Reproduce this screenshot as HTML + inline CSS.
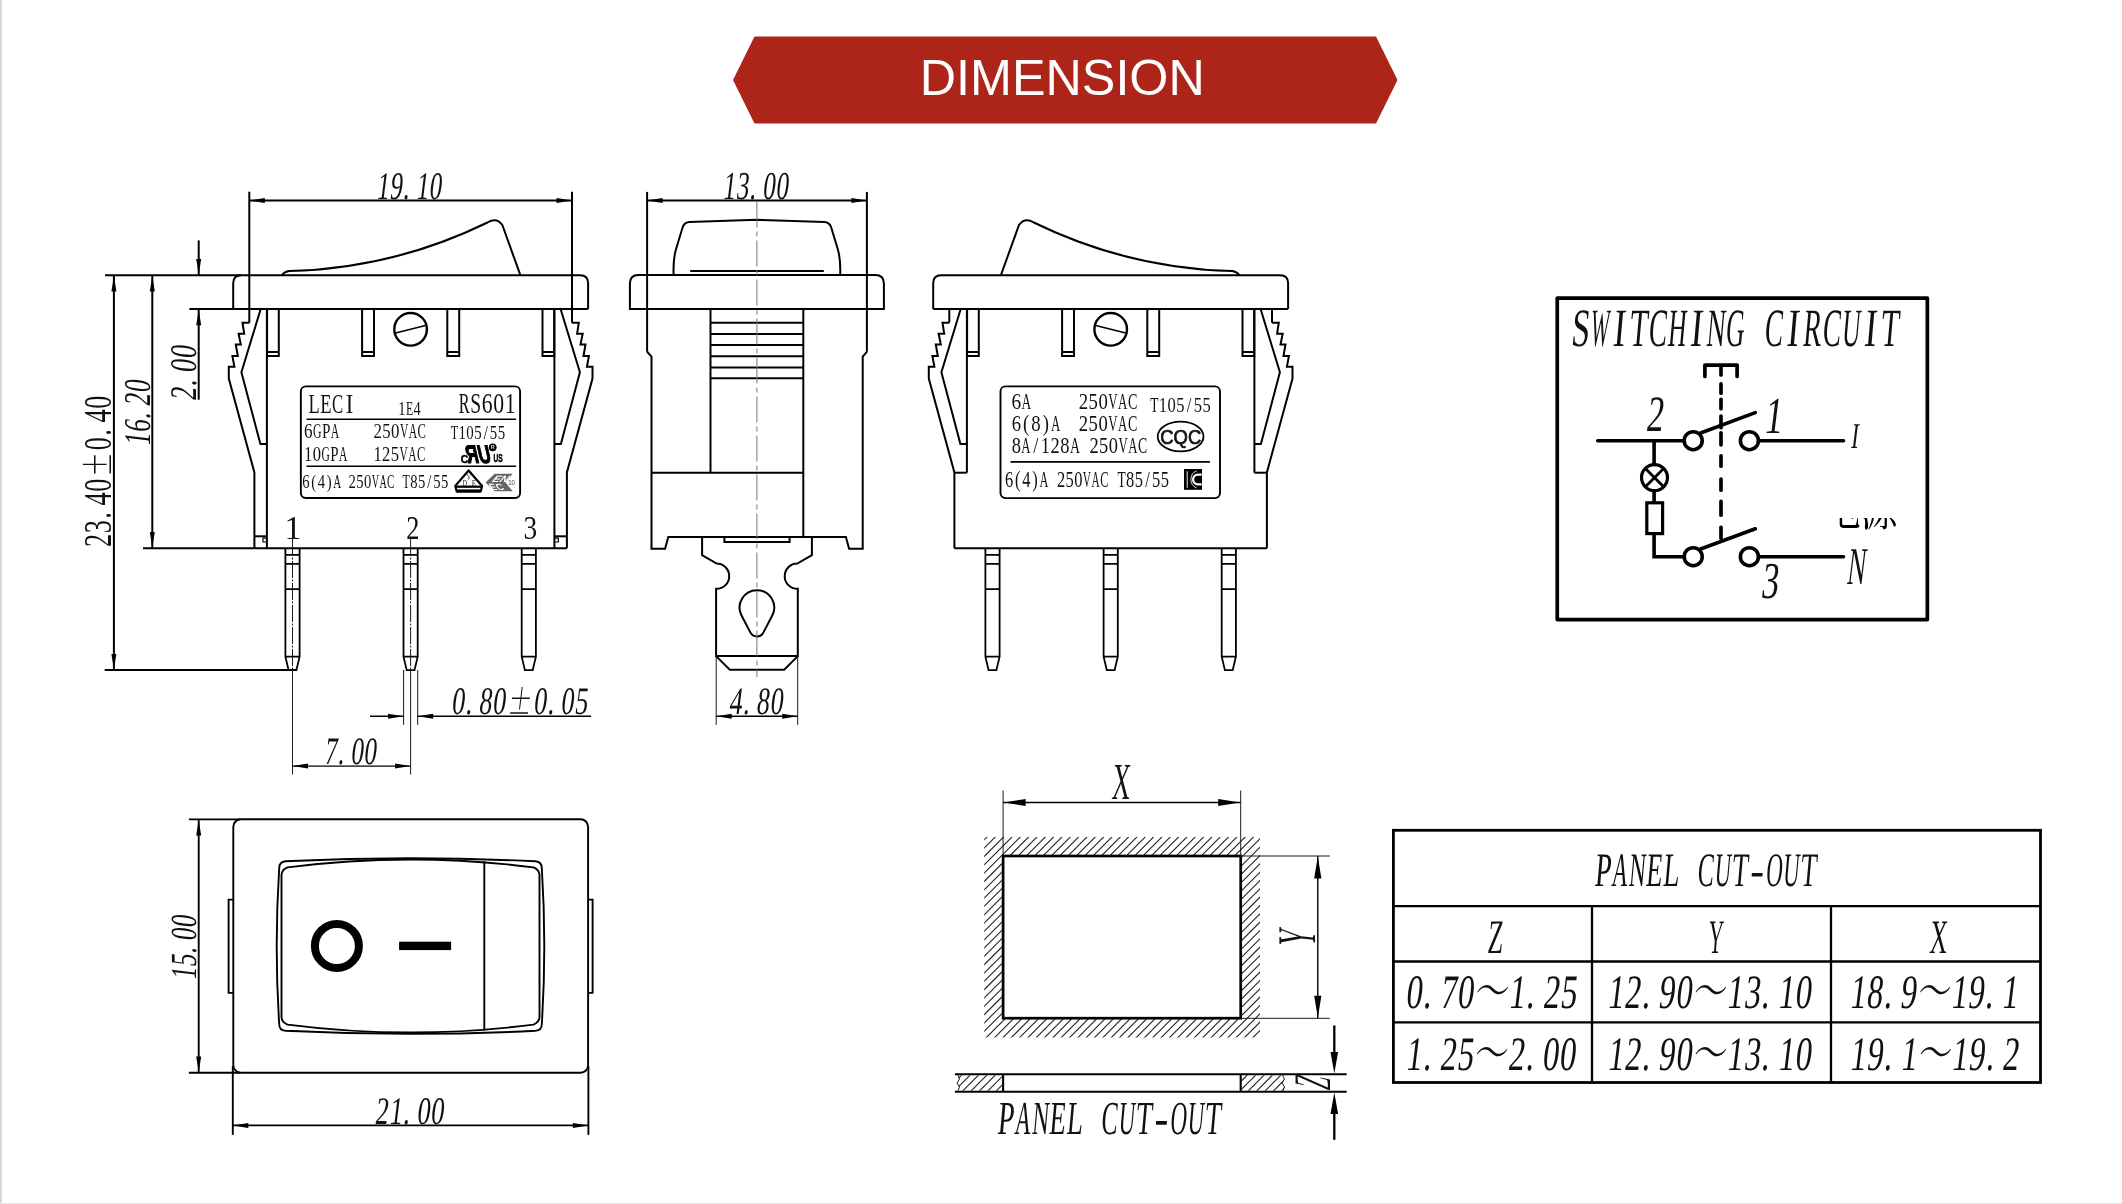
<!DOCTYPE html>
<html lang="en"><head><meta charset="utf-8"><title>DIMENSION</title>
<style>
html,body{margin:0;padding:0;background:#fff;}
body{width:2122px;height:1204px;overflow:hidden;position:relative;}
svg{display:block;position:absolute;left:0;top:0;will-change:transform;}
svg text{font-family:"Liberation Serif","Noto Serif CJK SC",serif;fill:#111;stroke:none;}
svg .ar{fill:#000;stroke:none;}
svg .g{fill:none;stroke:#000;stroke-linecap:butt;stroke-linejoin:miter;}
</style></head><body>
<svg width="2122" height="1204" viewBox="0 0 2122 1204">
<rect x="0" y="0" width="2122" height="1204" fill="#fff"/>
<rect x="0" y="0" width="2" height="1204" fill="#d9d9d9"/>
<rect x="0" y="1203" width="2122" height="1" fill="#e4e4e4"/>
<g class="g">
<polygon points="733,80 754.5,36.5 1376,36.5 1397.5,80 1376,123.5 754.5,123.5" fill="#ad2418" stroke="none"/>
<text x="1062.3" y="95.3" font-size="49.7" text-anchor="middle" textLength="285" lengthAdjust="spacingAndGlyphs" style="font-family:'Liberation Sans',sans-serif;fill:#fff">DIMENSION</text>
<path d="M233.2,309 V283.2 Q233.2,275.2 241.2,275.2 H580.1 Q588.1,275.2 588.1,283.2 V309" stroke-width="2"/>
<line x1="233.2" y1="309" x2="588.1" y2="309" stroke-width="2"/>
<path d="M282,275 Q284.5,271.8 289,271.1 A480,480 0 0 0 487.5,222.5 Q496.5,217 502.3,225 L520.2,274.6" stroke-width="2"/>
<path d="M249.3,322.7 H242.5 L244.2,333.7 H238.6 L240.8,344.4 H235.8 L237.8,356.1 H232.4 L234.4,366.8 H228.8 V378.6 L254.4,472.4 V548.3" stroke-width="2"/>
<path d="M260.7,309 L241.4,372.3 L260.4,443.9 H266.9" stroke-width="2"/>
<line x1="266.9" y1="309" x2="266.9" y2="548.3" stroke-width="2"/>
<line x1="254.4" y1="536.3" x2="266.9" y2="536.3" stroke-width="2"/>
<path d="M266.9,538.2 H263 V542 H266.9" stroke-width="1.2"/>
<path d="M572,322.7 H578.8 L577.1,333.7 H582.7 L580.5,344.4 H585.5 L583.5,356.1 H588.9 L586.9,366.8 H592.5 V378.6 L566.9,472.4 V548.3" stroke-width="2"/>
<path d="M560.6,309 L579.9,372.3 L560.9,443.9 H554.4" stroke-width="2"/>
<line x1="554.4" y1="309" x2="554.4" y2="548.3" stroke-width="2"/>
<line x1="566.9" y1="536.3" x2="554.4" y2="536.3" stroke-width="2"/>
<path d="M554.4,538.2 H558.3 V542 H554.4" stroke-width="1.2"/>
<path d="M267.1,309 V356.1 H278.8 V309 M267.1,351.9 H278.8" stroke-width="2"/>
<path d="M362.1,309 V356.1 H374 V309 M362.1,351.9 H374" stroke-width="2"/>
<path d="M447.3,309 V356.1 H459.2 V309 M447.3,351.9 H459.2" stroke-width="2"/>
<path d="M542.5,309 V356.1 H554.2 V309 M542.5,351.9 H554.2" stroke-width="2"/>
<circle cx="410.6" cy="329.3" r="16.3" stroke-width="2.4"/>
<line x1="395.6" y1="333.1" x2="425.5" y2="325.4" stroke-width="1.5"/>
<line x1="254.4" y1="548.3" x2="566.9" y2="548.3" stroke-width="2"/>
<path d="M285.4,548.3 V656.6 L288.6,670.1 H296.4 L299.6,656.6 V548.3 M285.4,554.9 H299.6 M285.4,563.8 H299.6 M285.4,589.2 H299.6 M285.4,656.6 H299.6" stroke-width="1.8"/>
<path d="M403.5,548.3 V656.6 L406.7,670.1 H414.5 L417.7,656.6 V548.3 M403.5,554.9 H417.7 M403.5,563.8 H417.7 M403.5,589.2 H417.7 M403.5,656.6 H417.7" stroke-width="1.8"/>
<path d="M521.7,548.3 V656.6 L524.9,670.1 H532.7 L535.9,656.6 V548.3 M521.7,554.9 H535.9 M521.7,563.8 H535.9 M521.7,589.2 H535.9 M521.7,656.6 H535.9" stroke-width="1.8"/>
<line x1="249.3" y1="191.7" x2="249.3" y2="322.7" stroke-width="2"/>
<line x1="572" y1="191.7" x2="572" y2="322.7" stroke-width="2"/>
<line x1="249.3" y1="200.6" x2="572" y2="200.6" stroke-width="2"/>
<polygon class="ar" points="249.3,200.6 264.8,198.1 264.8,203.1"/>
<polygon class="ar" points="572,200.6 556.5,203.1 556.5,198.1"/>
<text transform="translate(377.6,198.7) skewX(-7)" font-size="39.2" aria-label="19.10"><tspan x="-1.49" textLength="12.44" lengthAdjust="spacingAndGlyphs">1</tspan><tspan x="11.61" textLength="12.44" lengthAdjust="spacingAndGlyphs">9</tspan><tspan x="25.19" textLength="6.22" lengthAdjust="spacingAndGlyphs">.</tspan><tspan x="37.8" textLength="12.44" lengthAdjust="spacingAndGlyphs">1</tspan><tspan x="50.89" textLength="12.44" lengthAdjust="spacingAndGlyphs">0</tspan></text>
<line x1="105" y1="275.2" x2="241" y2="275.2" stroke-width="2"/>
<line x1="189.4" y1="309" x2="233.2" y2="309" stroke-width="2"/>
<line x1="143" y1="548.3" x2="254.4" y2="548.3" stroke-width="2"/>
<line x1="104.7" y1="670.1" x2="296.6" y2="670.1" stroke-width="2"/>
<line x1="113.9" y1="275.2" x2="113.9" y2="670.1" stroke-width="2"/>
<polygon class="ar" points="113.9,275.9 116.4,291.4 111.4,291.4"/>
<polygon class="ar" points="113.9,669.4 111.4,653.9 116.4,653.9"/>
<text transform="translate(111.4,547) rotate(-90)" font-size="40.53" aria-label="23.40±0.40"><tspan x="0.01" textLength="13.13" lengthAdjust="spacingAndGlyphs">2</tspan><tspan x="13.83" textLength="13.13" lengthAdjust="spacingAndGlyphs">3</tspan><tspan x="28.18" textLength="6.57" lengthAdjust="spacingAndGlyphs">.</tspan><tspan x="41.48" textLength="13.13" lengthAdjust="spacingAndGlyphs">4</tspan><tspan x="55.31" textLength="13.13" lengthAdjust="spacingAndGlyphs">0</tspan><tspan x="70.52" textLength="24.19" lengthAdjust="spacingAndGlyphs" font-family="Noto Serif CJK SC" font-size="35.67">±</tspan><tspan x="96.78" textLength="13.13" lengthAdjust="spacingAndGlyphs">0</tspan><tspan x="111.13" textLength="6.57" lengthAdjust="spacingAndGlyphs">.</tspan><tspan x="124.43" textLength="13.13" lengthAdjust="spacingAndGlyphs">4</tspan><tspan x="138.26" textLength="13.13" lengthAdjust="spacingAndGlyphs">0</tspan></text>
<line x1="152.3" y1="275.2" x2="152.3" y2="548.3" stroke-width="2"/>
<polygon class="ar" points="152.3,275.9 154.8,291.4 149.8,291.4"/>
<polygon class="ar" points="152.3,547.6 149.8,532.1 154.8,532.1"/>
<text transform="translate(150.2,444.5) rotate(-90) skewX(-7)" font-size="37.87" aria-label="16.20"><tspan x="-1.73" textLength="12.61" lengthAdjust="spacingAndGlyphs">1</tspan><tspan x="11.54" textLength="12.61" lengthAdjust="spacingAndGlyphs">6</tspan><tspan x="25.32" textLength="6.31" lengthAdjust="spacingAndGlyphs">.</tspan><tspan x="38.1" textLength="12.61" lengthAdjust="spacingAndGlyphs">2</tspan><tspan x="51.38" textLength="12.61" lengthAdjust="spacingAndGlyphs">0</tspan></text>
<line x1="198.7" y1="240.4" x2="198.7" y2="275.2" stroke-width="2"/>
<polygon class="ar" points="198.7,274.5 196.2,259 201.2,259"/>
<line x1="198.7" y1="309" x2="198.7" y2="399.7" stroke-width="2"/>
<polygon class="ar" points="198.7,309.7 201.2,325.2 196.2,325.2"/>
<text transform="translate(196.3,399) rotate(-90) skewX(-7)" font-size="37.57" aria-label="2.00"><tspan x="-2.1" textLength="13.27" lengthAdjust="spacingAndGlyphs">2</tspan><tspan x="12.39" textLength="6.64" lengthAdjust="spacingAndGlyphs">.</tspan><tspan x="25.84" textLength="13.27" lengthAdjust="spacingAndGlyphs">0</tspan><tspan x="39.81" textLength="13.27" lengthAdjust="spacingAndGlyphs">0</tspan></text>
<text transform="translate(288.1,538.9)" font-size="33.58" aria-label="1"><tspan x="-3.73" textLength="16.96" lengthAdjust="spacingAndGlyphs">1</tspan></text>
<text transform="translate(406.8,538.9)" font-size="33.58" aria-label="2"><tspan x="-0.66" textLength="13.22" lengthAdjust="spacingAndGlyphs">2</tspan></text>
<text transform="translate(524.6,538.9)" font-size="33.58" aria-label="3"><tspan x="-1.1" textLength="13.69" lengthAdjust="spacingAndGlyphs">3</tspan></text>
<line x1="292.5" y1="539" x2="292.5" y2="670" stroke-width="1" stroke-dasharray="17 1.5 2 1.5" stroke="#1a1a1a"/>
<line x1="292.5" y1="670" x2="292.5" y2="774.5" stroke-width="1" stroke="#1a1a1a"/>
<line x1="410.6" y1="539" x2="410.6" y2="670" stroke-width="1" stroke-dasharray="17 1.5 2 1.5" stroke="#1a1a1a"/>
<line x1="410.6" y1="670" x2="410.6" y2="774.5" stroke-width="1" stroke="#1a1a1a"/>
<line x1="403.6" y1="670" x2="403.6" y2="724.8" stroke-width="1" stroke="#1a1a1a"/>
<line x1="417.7" y1="670" x2="417.7" y2="724.8" stroke-width="1" stroke="#1a1a1a"/>
<line x1="370" y1="716.2" x2="403.6" y2="716.2" stroke-width="1.4"/>
<polygon class="ar" points="403.6,716.2 388.1,718.7 388.1,713.7"/>
<line x1="417.7" y1="716.2" x2="591" y2="716.2" stroke-width="1.4"/>
<polygon class="ar" points="417.7,716.2 433.2,713.7 433.2,718.7"/>
<text transform="translate(452.8,713.7) skewX(-7)" font-size="39.05" aria-label="0.80±0.05"><tspan x="-1.77" textLength="12.98" lengthAdjust="spacingAndGlyphs">0</tspan><tspan x="12.4" textLength="6.49" lengthAdjust="spacingAndGlyphs">.</tspan><tspan x="25.54" textLength="12.98" lengthAdjust="spacingAndGlyphs">8</tspan><tspan x="39.2" textLength="12.98" lengthAdjust="spacingAndGlyphs">0</tspan><tspan x="54.23" textLength="23.9" lengthAdjust="spacingAndGlyphs" font-family="Noto Serif CJK SC" font-size="34.37">±</tspan><tspan x="80.18" textLength="12.98" lengthAdjust="spacingAndGlyphs">0</tspan><tspan x="94.35" textLength="6.49" lengthAdjust="spacingAndGlyphs">.</tspan><tspan x="107.5" textLength="12.98" lengthAdjust="spacingAndGlyphs">0</tspan><tspan x="121.16" textLength="12.98" lengthAdjust="spacingAndGlyphs">5</tspan></text>
<line x1="292.5" y1="766.1" x2="410.6" y2="766.1" stroke-width="1.4"/>
<polygon class="ar" points="292.5,766.1 308,763.6 308,768.6"/>
<polygon class="ar" points="410.6,766.1 395.1,768.6 395.1,763.6"/>
<text transform="translate(325.4,763.8) skewX(-7)" font-size="38.91" aria-label="7.00"><tspan x="-1.55" textLength="12.5" lengthAdjust="spacingAndGlyphs">7</tspan><tspan x="12.1" textLength="6.25" lengthAdjust="spacingAndGlyphs">.</tspan><tspan x="24.76" textLength="12.5" lengthAdjust="spacingAndGlyphs">0</tspan><tspan x="37.92" textLength="12.5" lengthAdjust="spacingAndGlyphs">0</tspan></text>
<rect x="300.85" y="386.4" width="219.25" height="111.6" rx="5" stroke-width="1.9"/>
<line x1="306.5" y1="419.2" x2="516.1" y2="419.2" stroke-width="1.6"/>
<line x1="306.5" y1="466.3" x2="516.1" y2="466.3" stroke-width="1.6"/>
<text transform="translate(309.5,412.6)" font-size="27.81" aria-label="LECI"><tspan x="-1.11" textLength="11.23" lengthAdjust="spacingAndGlyphs">L</tspan><tspan x="10.72" textLength="11.23" lengthAdjust="spacingAndGlyphs">E</tspan><tspan x="22.55" textLength="11.23" lengthAdjust="spacingAndGlyphs">C</tspan><tspan x="36.25" textLength="7.48" lengthAdjust="spacingAndGlyphs">I</tspan></text>
<text transform="translate(399,415.2)" font-size="18.05" aria-label="1E4"><tspan x="-0.69" textLength="7.24" lengthAdjust="spacingAndGlyphs">1</tspan><tspan x="6.93" textLength="7.24" lengthAdjust="spacingAndGlyphs">E</tspan><tspan x="14.55" textLength="7.24" lengthAdjust="spacingAndGlyphs">4</tspan></text>
<text transform="translate(459.7,412.8)" font-size="28.4" aria-label="RS601"><tspan x="-0.83" textLength="10.87" lengthAdjust="spacingAndGlyphs">R</tspan><tspan x="10.62" textLength="10.87" lengthAdjust="spacingAndGlyphs">S</tspan><tspan x="22.06" textLength="10.87" lengthAdjust="spacingAndGlyphs">6</tspan><tspan x="33.51" textLength="10.87" lengthAdjust="spacingAndGlyphs">0</tspan><tspan x="44.96" textLength="10.87" lengthAdjust="spacingAndGlyphs">1</tspan></text>
<text transform="translate(304.9,437.6)" font-size="20.86" aria-label="6GPA"><tspan x="-0.86" textLength="8.5" lengthAdjust="spacingAndGlyphs">6</tspan><tspan x="8.08" textLength="8.5" lengthAdjust="spacingAndGlyphs">G</tspan><tspan x="17.02" textLength="8.5" lengthAdjust="spacingAndGlyphs">P</tspan><tspan x="25.97" textLength="8.5" lengthAdjust="spacingAndGlyphs">A</tspan></text>
<text transform="translate(374.2,437.6)" font-size="20.86" aria-label="250VAC"><tspan x="-0.82" textLength="8.4" lengthAdjust="spacingAndGlyphs">2</tspan><tspan x="8.03" textLength="8.4" lengthAdjust="spacingAndGlyphs">5</tspan><tspan x="16.87" textLength="8.4" lengthAdjust="spacingAndGlyphs">0</tspan><tspan x="25.72" textLength="8.4" lengthAdjust="spacingAndGlyphs">V</tspan><tspan x="34.57" textLength="8.4" lengthAdjust="spacingAndGlyphs">A</tspan><tspan x="43.41" textLength="8.4" lengthAdjust="spacingAndGlyphs">C</tspan></text>
<text transform="translate(451.4,438.6)" font-size="18.49" aria-label="T105/55"><tspan x="-0.72" textLength="7.44" lengthAdjust="spacingAndGlyphs">T</tspan><tspan x="7.11" textLength="7.44" lengthAdjust="spacingAndGlyphs">1</tspan><tspan x="14.95" textLength="7.44" lengthAdjust="spacingAndGlyphs">0</tspan><tspan x="22.78" textLength="7.44" lengthAdjust="spacingAndGlyphs">5</tspan><tspan x="32.26" textLength="4.14" lengthAdjust="spacingAndGlyphs">/</tspan><tspan x="38.45" textLength="7.44" lengthAdjust="spacingAndGlyphs">5</tspan><tspan x="46.28" textLength="7.44" lengthAdjust="spacingAndGlyphs">5</tspan></text>
<text transform="translate(304.9,461.1)" font-size="20.56" aria-label="10GPA"><tspan x="-0.81" textLength="8.3" lengthAdjust="spacingAndGlyphs">1</tspan><tspan x="7.92" textLength="8.3" lengthAdjust="spacingAndGlyphs">0</tspan><tspan x="16.65" textLength="8.3" lengthAdjust="spacingAndGlyphs">G</tspan><tspan x="25.38" textLength="8.3" lengthAdjust="spacingAndGlyphs">P</tspan><tspan x="34.12" textLength="8.3" lengthAdjust="spacingAndGlyphs">A</tspan></text>
<text transform="translate(374.2,461.1)" font-size="20.56" aria-label="125VAC"><tspan x="-0.82" textLength="8.31" lengthAdjust="spacingAndGlyphs">1</tspan><tspan x="7.93" textLength="8.31" lengthAdjust="spacingAndGlyphs">2</tspan><tspan x="16.67" textLength="8.31" lengthAdjust="spacingAndGlyphs">5</tspan><tspan x="25.42" textLength="8.31" lengthAdjust="spacingAndGlyphs">V</tspan><tspan x="34.16" textLength="8.31" lengthAdjust="spacingAndGlyphs">A</tspan><tspan x="42.91" textLength="8.31" lengthAdjust="spacingAndGlyphs">C</tspan></text>
<text transform="translate(302.9,488.4)" font-size="18.93" aria-label="6(4)A 250VAC T85/55"><tspan x="-0.59" textLength="7.32" lengthAdjust="spacingAndGlyphs">6</tspan><tspan x="8.34" textLength="4.88" lengthAdjust="spacingAndGlyphs">(</tspan><tspan x="14.83" textLength="7.32" lengthAdjust="spacingAndGlyphs">4</tspan><tspan x="23.76" textLength="4.88" lengthAdjust="spacingAndGlyphs">)</tspan><tspan x="30.25" textLength="7.32" lengthAdjust="spacingAndGlyphs">A</tspan> <tspan x="45.66" textLength="7.32" lengthAdjust="spacingAndGlyphs">2</tspan><tspan x="53.37" textLength="7.32" lengthAdjust="spacingAndGlyphs">5</tspan><tspan x="61.08" textLength="7.32" lengthAdjust="spacingAndGlyphs">0</tspan><tspan x="68.79" textLength="7.32" lengthAdjust="spacingAndGlyphs">V</tspan><tspan x="76.5" textLength="7.32" lengthAdjust="spacingAndGlyphs">A</tspan><tspan x="84.21" textLength="7.32" lengthAdjust="spacingAndGlyphs">C</tspan> <tspan x="99.62" textLength="7.32" lengthAdjust="spacingAndGlyphs">T</tspan><tspan x="107.33" textLength="7.32" lengthAdjust="spacingAndGlyphs">8</tspan><tspan x="115.04" textLength="7.32" lengthAdjust="spacingAndGlyphs">5</tspan><tspan x="124.37" textLength="4.07" lengthAdjust="spacingAndGlyphs">/</tspan><tspan x="130.46" textLength="7.32" lengthAdjust="spacingAndGlyphs">5</tspan><tspan x="138.17" textLength="7.32" lengthAdjust="spacingAndGlyphs">5</tspan></text>
<text x="460.7" y="462.5" font-size="11.6" textLength="7.4" lengthAdjust="spacingAndGlyphs" style="font-family:'Liberation Sans',sans-serif;font-weight:700;fill:#000;stroke:#000;stroke-width:0.5">C</text>
<text transform="translate(467.8,462.5) skewX(13)" font-size="25.3" textLength="24.6" lengthAdjust="spacingAndGlyphs" style="font-family:'Liberation Sans',sans-serif;font-weight:700;fill:#000;stroke:#000;stroke-width:1.1">ЯU</text>
<circle cx="492.7" cy="447.3" r="3.9" fill="#000" stroke="none"/>
<text x="492.7" y="449.2" font-size="5.4" text-anchor="middle" style="font-family:'Liberation Sans',sans-serif;font-weight:700;fill:#ddd">R</text>
<text x="493.4" y="462.4" font-size="11.2" textLength="9.2" lengthAdjust="spacingAndGlyphs" style="font-family:'Liberation Sans',sans-serif;font-weight:700;fill:#000;stroke:#000;stroke-width:0.5">US</text>
<path d="M468.6,470.5 L455.3,485.9 L456.7,491.4 H480.7 L482.1,485.9 Z" stroke-width="2.2" stroke-linejoin="round"/>
<line x1="455.5" y1="486.7" x2="481.9" y2="486.7" stroke-width="2.3"/>
<rect x="456.6" y="489.4" width="24.2" height="3.1" fill="#000" stroke="none"/>
<text x="468.9" y="480.0" font-size="8.2" text-anchor="middle" textLength="4.2" lengthAdjust="spacingAndGlyphs" style="fill:#222">V</text>
<text x="464.8" y="485.6" font-size="8.8" text-anchor="middle" textLength="4.6" lengthAdjust="spacingAndGlyphs" style="fill:#222">D</text>
<text x="474.0" y="485.6" font-size="8.8" text-anchor="middle" textLength="4.4" lengthAdjust="spacingAndGlyphs" style="fill:#222">E</text>
<polygon points="485.6,482.5 494.5,473.8 512.8,473.8 505.5,482.5 512.8,491.3 494.5,491.3" fill="#666" stroke="none"/>
<text transform="translate(491.6,481.6) skewX(-30)" font-size="9" textLength="15.5" lengthAdjust="spacingAndGlyphs" style="font-family:'Liberation Sans',sans-serif;font-weight:700;font-style:italic;fill:#fff">EN</text>
<text transform="translate(491.6,490.4) skewX(30)" font-size="9" textLength="13.5" lengthAdjust="spacingAndGlyphs" style="font-family:'Liberation Sans',sans-serif;font-weight:700;fill:#fff">EC</text>
<text x="508.2" y="485.3" font-size="6.6" textLength="6.8" lengthAdjust="spacingAndGlyphs" style="font-family:'Liberation Sans',sans-serif;fill:#444">10</text>
<line x1="647.1" y1="191.9" x2="647.1" y2="351.8" stroke-width="2"/>
<line x1="866.9" y1="191.9" x2="866.9" y2="351.8" stroke-width="2"/>
<line x1="647.1" y1="200.5" x2="866.9" y2="200.5" stroke-width="2"/>
<polygon class="ar" points="647.1,200.5 662.6,198 662.6,203"/>
<polygon class="ar" points="866.9,200.5 851.4,203 851.4,198"/>
<text transform="translate(723.8,199) skewX(-7)" font-size="39.64" aria-label="13.00"><tspan x="-1.5" textLength="12.57" lengthAdjust="spacingAndGlyphs">1</tspan><tspan x="11.73" textLength="12.57" lengthAdjust="spacingAndGlyphs">3</tspan><tspan x="25.46" textLength="6.29" lengthAdjust="spacingAndGlyphs">.</tspan><tspan x="38.2" textLength="12.57" lengthAdjust="spacingAndGlyphs">0</tspan><tspan x="51.44" textLength="12.57" lengthAdjust="spacingAndGlyphs">0</tspan></text>
<path d="M629.9,309 V283.5 Q629.9,275 638.4,275 H875.4 Q883.9,275 883.9,283.5 V309 Z" stroke-width="2"/>
<path d="M673.6,274.8 C673.2,264 674.6,254 676,249.2 L682.8,226.8 Q684.6,222.4 689.6,222.1 L756.9,219.8 L824.2,222.1 Q829.2,222.4 831,226.8 L837.8,249.2 C839.2,254 840.6,264 840.2,274.8" stroke-width="2"/>
<line x1="690.2" y1="271.1" x2="823.8" y2="271.1" stroke-width="2"/>
<path d="M647.1,351.8 L651.5,356.6 V548.8 H665.1 L668.3,536.9 H845.9 L849.1,548.8 H862.7 V356.6 L866.9,351.8" stroke-width="2"/>
<line x1="710.5" y1="309" x2="710.5" y2="472.8" stroke-width="2"/>
<line x1="803.3" y1="309" x2="803.3" y2="536.9" stroke-width="2"/>
<line x1="710.5" y1="322.7" x2="803.3" y2="322.7" stroke-width="2"/>
<line x1="710.5" y1="333.9" x2="803.3" y2="333.9" stroke-width="2"/>
<line x1="710.5" y1="344.9" x2="803.3" y2="344.9" stroke-width="2"/>
<line x1="710.5" y1="356.2" x2="803.3" y2="356.2" stroke-width="2"/>
<line x1="710.5" y1="367.4" x2="803.3" y2="367.4" stroke-width="2"/>
<line x1="710.5" y1="378.2" x2="803.3" y2="378.2" stroke-width="2"/>
<line x1="651.5" y1="472.8" x2="803.3" y2="472.8" stroke-width="2"/>
<path d="M702.1,536.9 V555.1 L716.6,563.6 A12.5,12.5 0 0 1 716.6,588.8 H716.1 V656.1 H797.8 V588.8 H797.3 A12.5,12.5 0 0 1 797.3,563.6 L811.9,555.1 V536.9" stroke-width="2"/>
<path d="M716.1,656.1 L729.8,669.8 H784.2 L797.8,656.1" stroke-width="2"/>
<path d="M724.4,536.9 V541.9 H789.6 V536.9" stroke-width="2"/>
<path d="M772.26,615.47 A17.3,17.3 0 1 0 741.54,615.47 L750.33,632.41 A7.4,7.4 0 0 0 763.47,632.41 Z" stroke-width="2"/>
<line x1="756.9" y1="201.5" x2="756.9" y2="677" stroke-width="1" stroke="#777" stroke-dasharray="26 4 5 4"/>
<line x1="716.2" y1="656.1" x2="716.2" y2="724.9" stroke-width="1" stroke="#1a1a1a"/>
<line x1="797.7" y1="656.1" x2="797.7" y2="724.9" stroke-width="1" stroke="#1a1a1a"/>
<line x1="716.2" y1="716.3" x2="797.7" y2="716.3" stroke-width="1.4"/>
<polygon class="ar" points="716.2,716.3 731.7,713.8 731.7,718.8"/>
<polygon class="ar" points="797.7,716.3 782.2,718.8 782.2,713.8"/>
<text transform="translate(730.3,713.8) skewX(-7)" font-size="38.91" aria-label="4.80"><tspan x="-1.77" textLength="12.94" lengthAdjust="spacingAndGlyphs">4</tspan><tspan x="12.36" textLength="6.47" lengthAdjust="spacingAndGlyphs">.</tspan><tspan x="25.48" textLength="12.94" lengthAdjust="spacingAndGlyphs">8</tspan><tspan x="39.1" textLength="12.94" lengthAdjust="spacingAndGlyphs">0</tspan></text>
<path d="M1288.1,309 V283.2 Q1288.1,275.2 1280.1,275.2 H941.2 Q933.2,275.2 933.2,283.2 V309" stroke-width="2"/>
<line x1="1288.1" y1="309" x2="933.2" y2="309" stroke-width="2"/>
<path d="M1239.3,275 Q1236.8,271.8 1232.3,271.1 A480,480 0 0 1 1033.8,222.5 Q1024.8,217 1019,225 L1001.1,274.6" stroke-width="2"/>
<path d="M1272,322.7 H1278.8 L1277.1,333.7 H1282.7 L1280.5,344.4 H1285.5 L1283.5,356.1 H1288.9 L1286.9,366.8 H1292.5 V378.6 L1266.9,472.4 V548.3" stroke-width="2"/>
<path d="M1260.6,309 L1279.9,372.3 L1260.9,443.9 H1254.4" stroke-width="2"/>
<line x1="1254.4" y1="309" x2="1254.4" y2="472.7" stroke-width="2"/>
<line x1="1266.9" y1="472.7" x2="1254.4" y2="472.7" stroke-width="2"/>
<line x1="1272" y1="309" x2="1272" y2="322.7" stroke-width="2"/>
<path d="M949.3,322.7 H942.5 L944.2,333.7 H938.6 L940.8,344.4 H935.8 L937.8,356.1 H932.4 L934.4,366.8 H928.8 V378.6 L954.4,472.4 V548.3" stroke-width="2"/>
<path d="M960.7,309 L941.4,372.3 L960.4,443.9 H966.9" stroke-width="2"/>
<line x1="966.9" y1="309" x2="966.9" y2="472.7" stroke-width="2"/>
<line x1="954.4" y1="472.7" x2="966.9" y2="472.7" stroke-width="2"/>
<line x1="949.3" y1="309" x2="949.3" y2="322.7" stroke-width="2"/>
<path d="M1254.2,309 V356.1 H1242.5 V309 M1254.2,351.9 H1242.5" stroke-width="2"/>
<path d="M1159.2,309 V356.1 H1147.3 V309 M1159.2,351.9 H1147.3" stroke-width="2"/>
<path d="M1074,309 V356.1 H1062.1 V309 M1074,351.9 H1062.1" stroke-width="2"/>
<path d="M978.8,309 V356.1 H967.1 V309 M978.8,351.9 H967.1" stroke-width="2"/>
<circle cx="1110.7" cy="329.3" r="16.3" stroke-width="2.4"/>
<line x1="1125.7" y1="333.1" x2="1095.8" y2="325.4" stroke-width="1.5"/>
<line x1="1266.9" y1="548.3" x2="954.4" y2="548.3" stroke-width="2"/>
<path d="M1221.7,548.3 V656.6 L1224.9,670.1 H1232.7 L1235.9,656.6 V548.3 M1221.7,554.9 H1235.9 M1221.7,563.8 H1235.9 M1221.7,589.2 H1235.9 M1221.7,656.6 H1235.9" stroke-width="1.8"/>
<path d="M1103.6,548.3 V656.6 L1106.8,670.1 H1114.6 L1117.8,656.6 V548.3 M1103.6,554.9 H1117.8 M1103.6,563.8 H1117.8 M1103.6,589.2 H1117.8 M1103.6,656.6 H1117.8" stroke-width="1.8"/>
<path d="M985.4,548.3 V656.6 L988.6,670.1 H996.4 L999.6,656.6 V548.3 M985.4,554.9 H999.6 M985.4,563.8 H999.6 M985.4,589.2 H999.6 M985.4,656.6 H999.6" stroke-width="1.8"/>
<rect x="1000.5" y="386.4" width="219.5" height="111.7" rx="5" stroke-width="1.9"/>
<line x1="1010.5" y1="461.9" x2="1209.9" y2="461.9" stroke-width="1.7"/>
<text transform="translate(1012.6,408.9)" font-size="22.49" aria-label="6A"><tspan x="-1.2" textLength="9.69" lengthAdjust="spacingAndGlyphs">6</tspan><tspan x="9.01" textLength="9.69" lengthAdjust="spacingAndGlyphs">A</tspan></text>
<text transform="translate(1079.7,408.9)" font-size="22.49" aria-label="250VAC"><tspan x="-1.04" textLength="9.37" lengthAdjust="spacingAndGlyphs">2</tspan><tspan x="8.82" textLength="9.37" lengthAdjust="spacingAndGlyphs">5</tspan><tspan x="18.69" textLength="9.37" lengthAdjust="spacingAndGlyphs">0</tspan><tspan x="28.55" textLength="9.37" lengthAdjust="spacingAndGlyphs">V</tspan><tspan x="38.41" textLength="9.37" lengthAdjust="spacingAndGlyphs">A</tspan><tspan x="48.27" textLength="9.37" lengthAdjust="spacingAndGlyphs">C</tspan></text>
<text transform="translate(1150.9,411.7)" font-size="20.71" aria-label="T105/55"><tspan x="-0.78" textLength="8.28" lengthAdjust="spacingAndGlyphs">T</tspan><tspan x="7.93" textLength="8.28" lengthAdjust="spacingAndGlyphs">1</tspan><tspan x="16.65" textLength="8.28" lengthAdjust="spacingAndGlyphs">0</tspan><tspan x="25.36" textLength="8.28" lengthAdjust="spacingAndGlyphs">5</tspan><tspan x="35.91" textLength="4.6" lengthAdjust="spacingAndGlyphs">/</tspan><tspan x="42.79" textLength="8.28" lengthAdjust="spacingAndGlyphs">5</tspan><tspan x="51.5" textLength="8.28" lengthAdjust="spacingAndGlyphs">5</tspan></text>
<text transform="translate(1012.6,431)" font-size="22.93" aria-label="6(8)A"><tspan x="-0.95" textLength="9.35" lengthAdjust="spacingAndGlyphs">6</tspan><tspan x="10.45" textLength="6.23" lengthAdjust="spacingAndGlyphs">(</tspan><tspan x="18.73" textLength="9.35" lengthAdjust="spacingAndGlyphs">8</tspan><tspan x="30.13" textLength="6.23" lengthAdjust="spacingAndGlyphs">)</tspan><tspan x="38.41" textLength="9.35" lengthAdjust="spacingAndGlyphs">A</tspan></text>
<text transform="translate(1079.7,431)" font-size="22.93" aria-label="250VAC"><tspan x="-0.95" textLength="9.34" lengthAdjust="spacingAndGlyphs">2</tspan><tspan x="8.88" textLength="9.34" lengthAdjust="spacingAndGlyphs">5</tspan><tspan x="18.71" textLength="9.34" lengthAdjust="spacingAndGlyphs">0</tspan><tspan x="28.55" textLength="9.34" lengthAdjust="spacingAndGlyphs">V</tspan><tspan x="38.38" textLength="9.34" lengthAdjust="spacingAndGlyphs">A</tspan><tspan x="48.21" textLength="9.34" lengthAdjust="spacingAndGlyphs">C</tspan></text>
<text transform="translate(1012.6,453.2)" font-size="22.63" aria-label="8A/128A 250VAC"><tspan x="-0.94" textLength="9.23" lengthAdjust="spacingAndGlyphs">8</tspan><tspan x="8.77" textLength="9.23" lengthAdjust="spacingAndGlyphs">A</tspan><tspan x="20.54" textLength="5.13" lengthAdjust="spacingAndGlyphs">/</tspan><tspan x="28.21" textLength="9.23" lengthAdjust="spacingAndGlyphs">1</tspan><tspan x="37.93" textLength="9.23" lengthAdjust="spacingAndGlyphs">2</tspan><tspan x="47.65" textLength="9.23" lengthAdjust="spacingAndGlyphs">8</tspan><tspan x="57.37" textLength="9.23" lengthAdjust="spacingAndGlyphs">A</tspan> <tspan x="76.81" textLength="9.23" lengthAdjust="spacingAndGlyphs">2</tspan><tspan x="86.53" textLength="9.23" lengthAdjust="spacingAndGlyphs">5</tspan><tspan x="96.25" textLength="9.23" lengthAdjust="spacingAndGlyphs">0</tspan><tspan x="105.97" textLength="9.23" lengthAdjust="spacingAndGlyphs">V</tspan><tspan x="115.69" textLength="9.23" lengthAdjust="spacingAndGlyphs">A</tspan><tspan x="125.41" textLength="9.23" lengthAdjust="spacingAndGlyphs">C</tspan></text>
<text transform="translate(1005.5,486.5)" font-size="22.19" aria-label="6(4)A 250VAC T85/55"><tspan x="-0.51" textLength="8.22" lengthAdjust="spacingAndGlyphs">6</tspan><tspan x="9.51" textLength="5.47" lengthAdjust="spacingAndGlyphs">(</tspan><tspan x="16.79" textLength="8.22" lengthAdjust="spacingAndGlyphs">4</tspan><tspan x="26.81" textLength="5.47" lengthAdjust="spacingAndGlyphs">)</tspan><tspan x="34.09" textLength="8.22" lengthAdjust="spacingAndGlyphs">A</tspan> <tspan x="51.39" textLength="8.22" lengthAdjust="spacingAndGlyphs">2</tspan><tspan x="60.04" textLength="8.22" lengthAdjust="spacingAndGlyphs">5</tspan><tspan x="68.69" textLength="8.22" lengthAdjust="spacingAndGlyphs">0</tspan><tspan x="77.34" textLength="8.22" lengthAdjust="spacingAndGlyphs">V</tspan><tspan x="85.99" textLength="8.22" lengthAdjust="spacingAndGlyphs">A</tspan><tspan x="94.64" textLength="8.22" lengthAdjust="spacingAndGlyphs">C</tspan> <tspan x="111.94" textLength="8.22" lengthAdjust="spacingAndGlyphs">T</tspan><tspan x="120.59" textLength="8.22" lengthAdjust="spacingAndGlyphs">8</tspan><tspan x="129.24" textLength="8.22" lengthAdjust="spacingAndGlyphs">5</tspan><tspan x="139.72" textLength="4.57" lengthAdjust="spacingAndGlyphs">/</tspan><tspan x="146.54" textLength="8.22" lengthAdjust="spacingAndGlyphs">5</tspan><tspan x="155.19" textLength="8.22" lengthAdjust="spacingAndGlyphs">5</tspan></text>
<ellipse cx="1180.6" cy="436.5" rx="22.9" ry="14.9" stroke-width="1.8"/>
<text x="1180.8" y="443.6" font-size="19.6" text-anchor="middle" textLength="41" lengthAdjust="spacingAndGlyphs" style="font-family:'Liberation Sans',sans-serif;fill:#111;stroke:#111;stroke-width:0.7">CQC</text>
<rect x="1184" y="469" width="18" height="20.8" fill="#000" stroke="none"/>
<g stroke="#fff"><title>KC</title>
<line x1="1187.2" y1="471.2" x2="1187.2" y2="487.8" stroke-width="0.9" stroke="#fff"/>
<path d="M1196.6,470.9 A9.2,9.2 0 0 0 1196.6,487.9" stroke="#fff" stroke-width="0.9"/>
<path d="M1201.6,474.6 H1198 A4.9,4.9 0 0 0 1198,484.4 H1201.6" stroke="#fff" stroke-width="2.2"/>
</g>
<rect x="1557.25" y="298.2" width="370.1" height="321.4" stroke-width="3.7" stroke-linejoin="round"/>
<text transform="translate(1571.4,346.4) skewX(-5)" font-size="53.99" aria-label="SWITCHING CIRCUIT"><tspan x="-0.92" textLength="18.36" lengthAdjust="spacingAndGlyphs">S</tspan><tspan x="18.4" textLength="18.36" lengthAdjust="spacingAndGlyphs">W</tspan><tspan x="40.79" textLength="12.23" lengthAdjust="spacingAndGlyphs">I</tspan><tspan x="57.05" textLength="18.36" lengthAdjust="spacingAndGlyphs">T</tspan><tspan x="76.38" textLength="18.36" lengthAdjust="spacingAndGlyphs">C</tspan><tspan x="95.7" textLength="18.36" lengthAdjust="spacingAndGlyphs">H</tspan><tspan x="118.09" textLength="12.23" lengthAdjust="spacingAndGlyphs">I</tspan><tspan x="134.35" textLength="18.36" lengthAdjust="spacingAndGlyphs">N</tspan><tspan x="153.67" textLength="18.36" lengthAdjust="spacingAndGlyphs">G</tspan> <tspan x="192.32" textLength="18.36" lengthAdjust="spacingAndGlyphs">C</tspan><tspan x="214.71" textLength="12.23" lengthAdjust="spacingAndGlyphs">I</tspan><tspan x="230.97" textLength="18.36" lengthAdjust="spacingAndGlyphs">R</tspan><tspan x="250.3" textLength="18.36" lengthAdjust="spacingAndGlyphs">C</tspan><tspan x="269.62" textLength="18.36" lengthAdjust="spacingAndGlyphs">U</tspan><tspan x="292.01" textLength="12.23" lengthAdjust="spacingAndGlyphs">I</tspan><tspan x="308.27" textLength="18.36" lengthAdjust="spacingAndGlyphs">T</tspan></text>
<path d="M1704.9,376.4 V365.1 H1737.1 V376.4" stroke-width="3.7" stroke-linecap="round" stroke-linejoin="round"/>
<line x1="1721" y1="366.95" x2="1721" y2="374.95" stroke-width="3.7" stroke-linecap="round" stroke-linejoin="round"/>
<line x1="1721" y1="383.95" x2="1721" y2="393.15" stroke-width="3.7" stroke-linecap="round" stroke-linejoin="round"/>
<line x1="1721" y1="399.25" x2="1721" y2="408.75" stroke-width="3.7" stroke-linecap="round" stroke-linejoin="round"/>
<line x1="1721" y1="416.05" x2="1721" y2="427.75" stroke-width="3.7" stroke-linecap="round" stroke-linejoin="round"/>
<line x1="1721" y1="432.85" x2="1721" y2="444.85" stroke-width="3.7" stroke-linecap="round" stroke-linejoin="round"/>
<line x1="1721" y1="455.75" x2="1721" y2="466.15" stroke-width="3.7" stroke-linecap="round" stroke-linejoin="round"/>
<line x1="1721" y1="479.05" x2="1721" y2="490.25" stroke-width="3.7" stroke-linecap="round" stroke-linejoin="round"/>
<line x1="1721" y1="501.45" x2="1721" y2="515.15" stroke-width="3.7" stroke-linecap="round" stroke-linejoin="round"/>
<line x1="1721" y1="527.25" x2="1721" y2="538.15" stroke-width="3.7" stroke-linecap="round" stroke-linejoin="round"/>
<line x1="1597.7" y1="440.7" x2="1684" y2="440.7" stroke-width="3.6" stroke-linecap="round" stroke-linejoin="round"/>
<circle cx="1693.2" cy="440.7" r="9.0" stroke-width="3.6"/>
<line x1="1700.6" y1="433" x2="1755.3" y2="412.6" stroke-width="3.6" stroke-linecap="round" stroke-linejoin="round"/>
<circle cx="1749.4" cy="440.7" r="9.0" stroke-width="3.6"/>
<line x1="1758.6" y1="440.7" x2="1843.5" y2="440.7" stroke-width="3.6" stroke-linecap="round" stroke-linejoin="round"/>
<line x1="1654.1" y1="440.7" x2="1654.1" y2="464.4" stroke-width="3.6"/>
<circle cx="1654.5" cy="477.6" r="13" stroke-width="3.2"/>
<line x1="1645.6" y1="468.7" x2="1663.4" y2="486.5" stroke-width="2.8"/>
<line x1="1663.4" y1="468.7" x2="1645.6" y2="486.5" stroke-width="2.8"/>
<line x1="1654.1" y1="490.6" x2="1654.1" y2="502.8" stroke-width="3.6"/>
<rect x="1646.8" y="502.8" width="15.8" height="30.8" stroke-width="3.2"/>
<path d="M1654.1,533.6 V556.7 H1684.0" stroke-width="3.6"/>
<circle cx="1693.2" cy="556.7" r="9.0" stroke-width="3.6"/>
<line x1="1700.6" y1="549" x2="1755.3" y2="528.8" stroke-width="3.6" stroke-linecap="round" stroke-linejoin="round"/>
<circle cx="1749.4" cy="556.7" r="9.0" stroke-width="3.6"/>
<line x1="1758.6" y1="556.7" x2="1843.5" y2="556.7" stroke-width="3.6" stroke-linecap="round" stroke-linejoin="round"/>
<text transform="translate(1647,431) skewX(-7)" font-size="50.89" aria-label="2"><tspan x="-1.39" textLength="17.15" lengthAdjust="spacingAndGlyphs">2</tspan></text>
<text transform="translate(1767.8,433.1) skewX(-7)" font-size="51.78" aria-label="1"><tspan x="-4.54" textLength="18.17" lengthAdjust="spacingAndGlyphs">1</tspan></text>
<text transform="translate(1762.2,597.6) skewX(-7)" font-size="51.78" aria-label="3"><tspan x="-1.91" textLength="17.12" lengthAdjust="spacingAndGlyphs">3</tspan></text>
<text transform="translate(1851,447.5) skewX(-7)" font-size="36.24" aria-label="I"><tspan x="-0.75" textLength="7.49" lengthAdjust="spacingAndGlyphs">I</tspan></text>
<text transform="translate(1847.4,583.5) skewX(-7)" font-size="53.11" aria-label="N"><tspan x="-1.09" textLength="17.87" lengthAdjust="spacingAndGlyphs">N</tspan></text>
<clipPath id="cpz"><rect x="1838.4" y="517.9" width="66" height="12"/></clipPath>
<g clip-path="url(#cpz)"><text transform="translate(1823.4,526.1) scale(1.06,1.3)" font-size="35" style="font-family:'Noto Serif CJK SC','Noto Sans CJK SC',serif;font-weight:400;fill:#000">电源</text></g>
<rect x="233.3" y="819.3" width="354.8" height="253.4" rx="7.5" stroke-width="1.9"/>
<line x1="188.9" y1="819.4" x2="240" y2="819.4" stroke-width="1.9"/>
<line x1="188.9" y1="1072.7" x2="240" y2="1072.7" stroke-width="1.9"/>
<line x1="198.7" y1="819.4" x2="198.7" y2="1072.7" stroke-width="1.9"/>
<polygon class="ar" points="198.7,820 201.2,835.5 196.2,835.5"/>
<polygon class="ar" points="198.7,1072.1 196.2,1056.6 201.2,1056.6"/>
<text transform="translate(195.8,978.5) rotate(-90) skewX(-7)" font-size="36.83" aria-label="15.00"><tspan x="-1.73" textLength="12.36" lengthAdjust="spacingAndGlyphs">1</tspan><tspan x="11.28" textLength="12.36" lengthAdjust="spacingAndGlyphs">5</tspan><tspan x="24.78" textLength="6.18" lengthAdjust="spacingAndGlyphs">.</tspan><tspan x="37.3" textLength="12.36" lengthAdjust="spacingAndGlyphs">0</tspan><tspan x="50.31" textLength="12.36" lengthAdjust="spacingAndGlyphs">0</tspan></text>
<path d="M233.1,899.6 H228.6 V992.9 H233.1" stroke-width="1.9"/>
<path d="M588.1,899.6 H592.6 V992.9 H588.1" stroke-width="1.9"/>
<path d="M279.2,868 Q279.3,861.8 285.5,861.3 Q410.5,855.2 535.5,861.3 Q541.7,861.8 541.8,868 Q546.8,946 541.8,1024.2 Q541.7,1030.3 535.5,1030.8 Q410.5,1037 285.5,1030.8 Q279.3,1030.3 279.2,1024.2 Q274.2,946 279.2,868 Z" stroke-width="1.9"/>
<path d="M281.5,875 Q281.6,870 287.5,867.4 Q410.5,851.6 533.5,867.4 Q539.4,870 539.5,875 V1017 Q539.4,1022 533.5,1024.6 Q410.5,1040.4 287.5,1024.6 Q281.6,1022 281.5,1017 Z" stroke-width="1.9"/>
<line x1="484.3" y1="861.5" x2="484.3" y2="1030.6" stroke-width="1.9"/>
<circle cx="336.9" cy="945.9" r="22" stroke-width="8"/>
<rect x="399.1" y="941.7" width="52" height="8.4" fill="#000" stroke="none"/>
<line x1="232.8" y1="1066" x2="232.8" y2="1134.9" stroke-width="1.9"/>
<line x1="588.4" y1="1066" x2="588.4" y2="1134.9" stroke-width="1.9"/>
<line x1="232.8" y1="1125.4" x2="588.4" y2="1125.4" stroke-width="1.9"/>
<polygon class="ar" points="232.8,1125.4 248.3,1122.9 248.3,1127.9"/>
<polygon class="ar" points="588.4,1125.4 572.9,1127.9 572.9,1122.9"/>
<text transform="translate(376.4,1123.9) skewX(-7)" font-size="39.05" aria-label="21.00"><tspan x="-1.88" textLength="13.19" lengthAdjust="spacingAndGlyphs">2</tspan><tspan x="12" textLength="13.19" lengthAdjust="spacingAndGlyphs">1</tspan><tspan x="26.41" textLength="6.59" lengthAdjust="spacingAndGlyphs">.</tspan><tspan x="39.77" textLength="13.19" lengthAdjust="spacingAndGlyphs">0</tspan><tspan x="53.65" textLength="13.19" lengthAdjust="spacingAndGlyphs">0</tspan></text>
<clipPath id="hc"><path clip-rule="evenodd" d="M984.2,837.1 H1260 V1037.5 H984.2 Z M1003.1,856.0 V1018.2 H1240.7 V856.0 Z"/></clipPath>
<path clip-path="url(#hc)" d="M977.29,830 L762.29,1045 M985.62,830 L770.62,1045 M993.95,830 L778.95,1045 M1002.28,830 L787.28,1045 M1010.61,830 L795.61,1045 M1018.94,830 L803.94,1045 M1027.27,830 L812.27,1045 M1035.6,830 L820.6,1045 M1043.93,830 L828.93,1045 M1052.26,830 L837.26,1045 M1060.59,830 L845.59,1045 M1068.92,830 L853.92,1045 M1077.25,830 L862.25,1045 M1085.58,830 L870.58,1045 M1093.91,830 L878.91,1045 M1102.24,830 L887.24,1045 M1110.57,830 L895.57,1045 M1118.9,830 L903.9,1045 M1127.23,830 L912.23,1045 M1135.56,830 L920.56,1045 M1143.89,830 L928.89,1045 M1152.22,830 L937.22,1045 M1160.55,830 L945.55,1045 M1168.88,830 L953.88,1045 M1177.21,830 L962.21,1045 M1185.54,830 L970.54,1045 M1193.87,830 L978.87,1045 M1202.2,830 L987.2,1045 M1210.53,830 L995.53,1045 M1218.86,830 L1003.86,1045 M1227.19,830 L1012.19,1045 M1235.52,830 L1020.52,1045 M1243.85,830 L1028.85,1045 M1252.18,830 L1037.18,1045 M1260.51,830 L1045.51,1045 M1268.84,830 L1053.84,1045 M1277.17,830 L1062.17,1045 M1285.5,830 L1070.5,1045 M1293.83,830 L1078.83,1045 M1302.16,830 L1087.16,1045 M1310.49,830 L1095.49,1045 M1318.82,830 L1103.82,1045 M1327.15,830 L1112.15,1045 M1335.48,830 L1120.48,1045 M1343.81,830 L1128.81,1045 M1352.14,830 L1137.14,1045 M1360.47,830 L1145.47,1045 M1368.8,830 L1153.8,1045 M1377.13,830 L1162.13,1045 M1385.46,830 L1170.46,1045 M1393.79,830 L1178.79,1045 M1402.12,830 L1187.12,1045 M1410.45,830 L1195.45,1045 M1418.78,830 L1203.78,1045 M1427.11,830 L1212.11,1045 M1435.44,830 L1220.44,1045 M1443.77,830 L1228.77,1045 M1452.1,830 L1237.1,1045 M1460.43,830 L1245.43,1045 M1468.76,830 L1253.76,1045" stroke-width="1.1" stroke="#222"/>
<rect x="1003.1" y="856.0" width="237.6" height="162.2" stroke-width="2.7"/>
<line x1="1003.1" y1="790.5" x2="1003.1" y2="856.3" stroke-width="1" stroke="#1a1a1a"/>
<line x1="1240.7" y1="790.5" x2="1240.7" y2="856.3" stroke-width="1" stroke="#1a1a1a"/>
<line x1="1003.1" y1="802.5" x2="1240.7" y2="802.5" stroke-width="1.4"/>
<polygon class="ar" points="1003.6,802.5 1025.6,798.9 1025.6,806.1"/>
<polygon class="ar" points="1240.2,802.5 1218.2,806.1 1218.2,798.9"/>
<text transform="translate(1112.1,799.2) skewX(-4)" font-size="52.07" aria-label="X"><tspan x="-0.86" textLength="18.25" lengthAdjust="spacingAndGlyphs">X</tspan></text>
<line x1="1240.7" y1="856" x2="1329.8" y2="856" stroke-width="1" stroke="#1a1a1a"/>
<line x1="1240.7" y1="1018.3" x2="1329.8" y2="1018.3" stroke-width="1" stroke="#1a1a1a"/>
<line x1="1317.8" y1="856" x2="1317.8" y2="1018.3" stroke-width="1.4"/>
<polygon class="ar" points="1317.8,856.5 1321.4,878.5 1314.2,878.5"/>
<polygon class="ar" points="1317.8,1017.8 1314.2,995.8 1321.4,995.8"/>
<text transform="translate(1314.7,947.8) rotate(-90) skewX(-6) scale(0.45,1)" font-size="54.4" x="0" y="0">Y</text>
<line x1="954.9" y1="1074.2" x2="1346.7" y2="1074.2" stroke-width="2.1"/>
<line x1="954.9" y1="1091.7" x2="1346.7" y2="1091.7" stroke-width="2.1"/>
<line x1="1003.1" y1="1074.2" x2="1003.1" y2="1091.7" stroke-width="2.1"/>
<line x1="1240.7" y1="1074.2" x2="1240.7" y2="1091.7" stroke-width="2.1"/>
<clipPath id="hc2"><path d="M958,1075.2 H1003.1 V1090.7 H958 L959.5,1087 L957,1083 L959.5,1079 Z M1240.7,1075.2 H1282.5 L1284.5,1079 L1282,1083 L1284.5,1087 L1283,1090.7 H1240.7 Z"/></clipPath>
<path clip-path="url(#hc2)" d="M950,1070 L925,1095 M958.4,1070 L933.4,1095 M966.8,1070 L941.8,1095 M975.2,1070 L950.2,1095 M983.6,1070 L958.6,1095 M992,1070 L967,1095 M1000.4,1070 L975.4,1095 M1008.8,1070 L983.8,1095 M1017.2,1070 L992.2,1095 M1025.6,1070 L1000.6,1095 M1034,1070 L1009,1095 M1042.4,1070 L1017.4,1095 M1050.8,1070 L1025.8,1095 M1059.2,1070 L1034.2,1095 M1067.6,1070 L1042.6,1095 M1076,1070 L1051,1095 M1084.4,1070 L1059.4,1095 M1092.8,1070 L1067.8,1095 M1101.2,1070 L1076.2,1095 M1109.6,1070 L1084.6,1095 M1118,1070 L1093,1095 M1126.4,1070 L1101.4,1095 M1134.8,1070 L1109.8,1095 M1143.2,1070 L1118.2,1095 M1151.6,1070 L1126.6,1095 M1160,1070 L1135,1095 M1168.4,1070 L1143.4,1095 M1176.8,1070 L1151.8,1095 M1185.2,1070 L1160.2,1095 M1193.6,1070 L1168.6,1095 M1202,1070 L1177,1095 M1210.4,1070 L1185.4,1095 M1218.8,1070 L1193.8,1095 M1227.2,1070 L1202.2,1095 M1235.6,1070 L1210.6,1095 M1244,1070 L1219,1095 M1252.4,1070 L1227.4,1095 M1260.8,1070 L1235.8,1095 M1269.2,1070 L1244.2,1095 M1277.6,1070 L1252.6,1095 M1286,1070 L1261,1095 M1294.4,1070 L1269.4,1095 M1302.8,1070 L1277.8,1095 M1311.2,1070 L1286.2,1095 M1319.6,1070 L1294.6,1095" stroke-width="1.1" stroke="#222"/>
<path d="M958,1075.2 L959.5,1079 L957,1083 L959.5,1087 L958,1090.7" stroke-width="0.9"/>
<path d="M1282.5,1075.2 L1284.5,1079 L1282,1083 L1284.5,1087 L1283,1090.7" stroke-width="0.9"/>
<line x1="1334.3" y1="1026.3" x2="1334.3" y2="1060" stroke-width="2.3" stroke-linecap="round"/>
<polygon class="ar" points="1334.3,1073.4 1330.5,1051.9 1338.1,1051.9"/>
<line x1="1334.3" y1="1106" x2="1334.3" y2="1139" stroke-width="2.3" stroke-linecap="round"/>
<polygon class="ar" points="1334.3,1092.5 1338.1,1114 1330.5,1114"/>
<text transform="translate(1330.4,1091.2) rotate(-90) skewX(-10) scale(0.41,1)" font-size="52.7" x="0" y="0">Z</text>
<text transform="translate(997.5,1134) skewX(-5)" font-size="47.34" aria-label="PANEL CUT-OUT"><tspan x="-0.64" textLength="16.39" lengthAdjust="spacingAndGlyphs">P</tspan><tspan x="16.62" textLength="16.39" lengthAdjust="spacingAndGlyphs">A</tspan><tspan x="33.88" textLength="16.39" lengthAdjust="spacingAndGlyphs">N</tspan><tspan x="51.13" textLength="16.39" lengthAdjust="spacingAndGlyphs">E</tspan><tspan x="68.39" textLength="16.39" lengthAdjust="spacingAndGlyphs">L</tspan> <tspan x="102.9" textLength="16.39" lengthAdjust="spacingAndGlyphs">C</tspan><tspan x="120.16" textLength="16.39" lengthAdjust="spacingAndGlyphs">U</tspan><tspan x="137.42" textLength="16.39" lengthAdjust="spacingAndGlyphs">T</tspan><tspan x="155.9" textLength="13.93" lengthAdjust="spacingAndGlyphs">-</tspan><tspan x="171.93" textLength="16.39" lengthAdjust="spacingAndGlyphs">O</tspan><tspan x="189.19" textLength="16.39" lengthAdjust="spacingAndGlyphs">U</tspan><tspan x="206.44" textLength="16.39" lengthAdjust="spacingAndGlyphs">T</tspan></text>
<rect x="1393.4" y="830.3" width="647.1" height="252.2" stroke-width="2.8"/>
<line x1="1393.4" y1="906.2" x2="2040.5" y2="906.2" stroke-width="2.3"/>
<line x1="1393.4" y1="961.5" x2="2040.5" y2="961.5" stroke-width="2.3"/>
<line x1="1393.4" y1="1022.3" x2="2040.5" y2="1022.3" stroke-width="2.3"/>
<line x1="1592" y1="906.2" x2="1592" y2="1082.5" stroke-width="2.3"/>
<line x1="1831" y1="906.2" x2="1831" y2="1082.5" stroke-width="2.3"/>
<text transform="translate(1594.4,886.4) skewX(-5)" font-size="48.08" aria-label="PANEL CUT-OUT"><tspan x="-0.46" textLength="16.27" lengthAdjust="spacingAndGlyphs">P</tspan><tspan x="16.67" textLength="16.27" lengthAdjust="spacingAndGlyphs">A</tspan><tspan x="33.79" textLength="16.27" lengthAdjust="spacingAndGlyphs">N</tspan><tspan x="50.92" textLength="16.27" lengthAdjust="spacingAndGlyphs">E</tspan><tspan x="68.04" textLength="16.27" lengthAdjust="spacingAndGlyphs">L</tspan> <tspan x="102.29" textLength="16.27" lengthAdjust="spacingAndGlyphs">C</tspan><tspan x="119.42" textLength="16.27" lengthAdjust="spacingAndGlyphs">U</tspan><tspan x="136.54" textLength="16.27" lengthAdjust="spacingAndGlyphs">T</tspan><tspan x="154.89" textLength="13.83" lengthAdjust="spacingAndGlyphs">-</tspan><tspan x="170.79" textLength="16.27" lengthAdjust="spacingAndGlyphs">O</tspan><tspan x="187.92" textLength="16.27" lengthAdjust="spacingAndGlyphs">U</tspan><tspan x="205.04" textLength="16.27" lengthAdjust="spacingAndGlyphs">T</tspan></text>
<text transform="translate(1487.7,953.1) skewX(-4)" font-size="48.08" aria-label="Z"><tspan x="-0.75" textLength="15.53" lengthAdjust="spacingAndGlyphs">Z</tspan></text>
<text transform="translate(1708.2,953.1) skewX(-4)" font-size="48.08" aria-label="Y"><tspan x="-0.73" textLength="14.78" lengthAdjust="spacingAndGlyphs">Y</tspan></text>
<text transform="translate(1929.9,953.1) skewX(-4)" font-size="48.08" aria-label="X"><tspan x="-0.81" textLength="17.55" lengthAdjust="spacingAndGlyphs">X</tspan></text>
<text transform="translate(1407.4,1008.3) skewX(-7)" font-size="48.08" aria-label="0.70～1.25"><tspan x="-2.35" textLength="16.31" lengthAdjust="spacingAndGlyphs">0</tspan><tspan x="15.46" textLength="8.15" lengthAdjust="spacingAndGlyphs">.</tspan><tspan x="31.98" textLength="16.31" lengthAdjust="spacingAndGlyphs">7</tspan><tspan x="49.15" textLength="16.31" lengthAdjust="spacingAndGlyphs">0</tspan><tspan x="66.32" textLength="33.47" lengthAdjust="spacingAndGlyphs">～</tspan><tspan x="100.65" textLength="16.31" lengthAdjust="spacingAndGlyphs">1</tspan><tspan x="118.46" textLength="8.15" lengthAdjust="spacingAndGlyphs">.</tspan><tspan x="134.98" textLength="16.31" lengthAdjust="spacingAndGlyphs">2</tspan><tspan x="152.15" textLength="16.31" lengthAdjust="spacingAndGlyphs">5</tspan></text>
<text transform="translate(1609,1008.3) skewX(-7)" font-size="48.08" aria-label="12.90～13.10"><tspan x="-2.3" textLength="16.2" lengthAdjust="spacingAndGlyphs">1</tspan><tspan x="14.76" textLength="16.2" lengthAdjust="spacingAndGlyphs">2</tspan><tspan x="32.45" textLength="8.1" lengthAdjust="spacingAndGlyphs">.</tspan><tspan x="48.87" textLength="16.2" lengthAdjust="spacingAndGlyphs">9</tspan><tspan x="65.92" textLength="16.2" lengthAdjust="spacingAndGlyphs">0</tspan><tspan x="82.98" textLength="33.26" lengthAdjust="spacingAndGlyphs">～</tspan><tspan x="117.09" textLength="16.2" lengthAdjust="spacingAndGlyphs">1</tspan><tspan x="134.14" textLength="16.2" lengthAdjust="spacingAndGlyphs">3</tspan><tspan x="151.83" textLength="8.1" lengthAdjust="spacingAndGlyphs">.</tspan><tspan x="168.25" textLength="16.2" lengthAdjust="spacingAndGlyphs">1</tspan><tspan x="185.3" textLength="16.2" lengthAdjust="spacingAndGlyphs">0</tspan></text>
<text transform="translate(1851.2,1008.3) skewX(-7)" font-size="48.08" aria-label="18.9～19.1"><tspan x="-2.21" textLength="16.03" lengthAdjust="spacingAndGlyphs">1</tspan><tspan x="14.67" textLength="16.03" lengthAdjust="spacingAndGlyphs">8</tspan><tspan x="32.18" textLength="8.02" lengthAdjust="spacingAndGlyphs">.</tspan><tspan x="48.42" textLength="16.03" lengthAdjust="spacingAndGlyphs">9</tspan><tspan x="65.3" textLength="32.91" lengthAdjust="spacingAndGlyphs">～</tspan><tspan x="99.05" textLength="16.03" lengthAdjust="spacingAndGlyphs">1</tspan><tspan x="115.93" textLength="16.03" lengthAdjust="spacingAndGlyphs">9</tspan><tspan x="133.44" textLength="8.02" lengthAdjust="spacingAndGlyphs">.</tspan><tspan x="149.69" textLength="16.03" lengthAdjust="spacingAndGlyphs">1</tspan></text>
<text transform="translate(1407.4,1069.5) skewX(-7)" font-size="48.08" aria-label="1.25～2.00"><tspan x="-2.3" textLength="16.2" lengthAdjust="spacingAndGlyphs">1</tspan><tspan x="15.4" textLength="8.1" lengthAdjust="spacingAndGlyphs">.</tspan><tspan x="31.81" textLength="16.2" lengthAdjust="spacingAndGlyphs">2</tspan><tspan x="48.87" textLength="16.2" lengthAdjust="spacingAndGlyphs">5</tspan><tspan x="65.93" textLength="33.26" lengthAdjust="spacingAndGlyphs">～</tspan><tspan x="100.04" textLength="16.2" lengthAdjust="spacingAndGlyphs">2</tspan><tspan x="117.73" textLength="8.1" lengthAdjust="spacingAndGlyphs">.</tspan><tspan x="134.15" textLength="16.2" lengthAdjust="spacingAndGlyphs">0</tspan><tspan x="151.2" textLength="16.2" lengthAdjust="spacingAndGlyphs">0</tspan></text>
<text transform="translate(1609,1069.5) skewX(-7)" font-size="48.08" aria-label="12.90～13.10"><tspan x="-2.3" textLength="16.2" lengthAdjust="spacingAndGlyphs">1</tspan><tspan x="14.76" textLength="16.2" lengthAdjust="spacingAndGlyphs">2</tspan><tspan x="32.45" textLength="8.1" lengthAdjust="spacingAndGlyphs">.</tspan><tspan x="48.87" textLength="16.2" lengthAdjust="spacingAndGlyphs">9</tspan><tspan x="65.92" textLength="16.2" lengthAdjust="spacingAndGlyphs">0</tspan><tspan x="82.98" textLength="33.26" lengthAdjust="spacingAndGlyphs">～</tspan><tspan x="117.09" textLength="16.2" lengthAdjust="spacingAndGlyphs">1</tspan><tspan x="134.14" textLength="16.2" lengthAdjust="spacingAndGlyphs">3</tspan><tspan x="151.83" textLength="8.1" lengthAdjust="spacingAndGlyphs">.</tspan><tspan x="168.25" textLength="16.2" lengthAdjust="spacingAndGlyphs">1</tspan><tspan x="185.3" textLength="16.2" lengthAdjust="spacingAndGlyphs">0</tspan></text>
<text transform="translate(1851.2,1069.5) skewX(-7)" font-size="48.08" aria-label="19.1～19.2"><tspan x="-2.26" textLength="16.14" lengthAdjust="spacingAndGlyphs">1</tspan><tspan x="14.72" textLength="16.14" lengthAdjust="spacingAndGlyphs">9</tspan><tspan x="32.35" textLength="8.07" lengthAdjust="spacingAndGlyphs">.</tspan><tspan x="48.7" textLength="16.14" lengthAdjust="spacingAndGlyphs">1</tspan><tspan x="65.69" textLength="33.13" lengthAdjust="spacingAndGlyphs">～</tspan><tspan x="99.67" textLength="16.14" lengthAdjust="spacingAndGlyphs">1</tspan><tspan x="116.66" textLength="16.14" lengthAdjust="spacingAndGlyphs">9</tspan><tspan x="134.28" textLength="8.07" lengthAdjust="spacingAndGlyphs">.</tspan><tspan x="150.64" textLength="16.14" lengthAdjust="spacingAndGlyphs">2</tspan></text>
</g>
</svg>
</body></html>
